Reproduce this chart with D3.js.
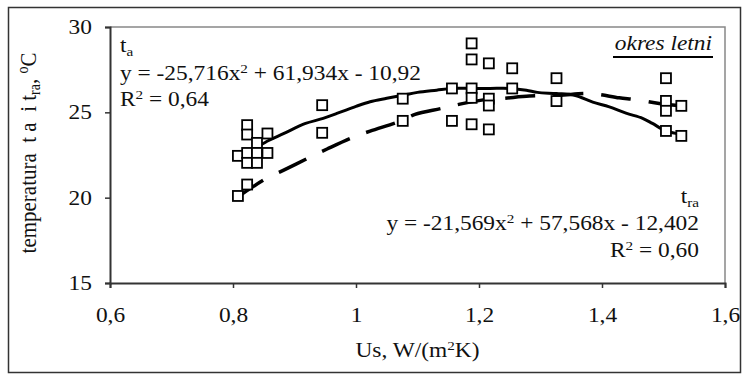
<!DOCTYPE html>
<html>
<head>
<meta charset="utf-8">
<script src="https://cdn.jsdelivr.net/npm/d3@7"></script>
<style>
  body { margin: 0; background: #fff; }
  svg { display: block; font-family: "Liberation Serif", "Times New Roman", serif; }
</style>
</head>
<body>
<svg id="chart" width="743" height="374"></svg>
<script>
// measured points (Us, temperature)
const pointX = [0.808, 0.808, 0.823, 0.823, 0.823, 0.823, 0.823, 0.839, 0.839, 0.839, 0.856, 0.856,
  0.945, 0.945, 1.076, 1.076, 1.156, 1.156, 1.188, 1.188, 1.188, 1.188, 1.188,
  1.216, 1.216, 1.216, 1.216, 1.254, 1.254, 1.326, 1.326, 1.504, 1.504, 1.504, 1.504, 1.529, 1.529];
const pointY = [22.45, 20.1, 24.25, 23.7, 22.62, 22.04, 20.77, 23.21, 22.62, 22.04, 23.76, 22.62,
  25.42, 23.8, 25.8, 24.5, 26.4, 24.5, 29.04, 28.1, 26.4, 25.85, 24.3,
  27.87, 25.8, 25.4, 24.0, 27.58, 26.4, 27.0, 25.66, 27.0, 25.67, 25.09, 23.91, 25.38, 23.62];

// t_a trend (solid)
const taX = [0.808, 0.831, 0.858, 0.882, 0.918, 0.942, 0.97, 1.0, 1.023, 1.05, 1.076, 1.1, 1.131, 1.156,
  1.188, 1.218, 1.25, 1.277, 1.295, 1.326, 1.355, 1.385, 1.412, 1.439, 1.466, 1.482, 1.504, 1.531];
const taY = [22.4, 22.8, 23.35, 23.75, 24.35, 24.6, 24.95, 25.35, 25.62, 25.82, 26.0, 26.17, 26.3, 26.4,
  26.4, 26.4, 26.4, 26.3, 26.17, 26.1, 26.0, 25.6, 25.32, 24.95, 24.65, 24.35, 23.91, 23.7];

// t_ra trend (dashed)
const traX = [0.808, 0.853, 0.88, 0.924, 0.953, 0.996, 1.023, 1.076, 1.096, 1.139, 1.169, 1.212,
  1.239, 1.282, 1.33, 1.382, 1.428, 1.455, 1.493, 1.529];
const traY = [20.05, 21.1, 21.57, 22.35, 22.85, 23.55, 23.9, 24.54, 24.88, 25.23, 25.48, 25.76,
  25.82, 25.95, 26.0, 26.1, 25.85, 25.74, 25.52, 25.38];

const xTicks = [0.6, 0.8, 1.0, 1.2, 1.4, 1.6];
const yTicks = [15, 20, 25, 30];

const svg = d3.select('#chart');
const mLeft = 110, mRight = 725, mTop = 27, mBottom = 283;
const FS = 20, SX = 1.17; // text in the picture is a bit stretched sideways

const x = d3.scaleLinear().domain([0.6, 1.6]).range([mLeft, mRight]);
const y = d3.scaleLinear().domain([15, 30]).range([mBottom, mTop]);
const fmt = (d) => String(+d.toFixed(1)).replace('.', ',');

// outer frame
svg.append('rect')
  .attr('x', 8.5).attr('y', 7.5).attr('width', 732).attr('height', 365)
  .attr('fill', 'none').attr('stroke', '#333').attr('stroke-width', 1.5);

// plot frame (grey top/right)
svg.append('path')
  .attr('d', `M${mLeft},${mTop}H${mRight}V${mBottom}`)
  .attr('fill', 'none').attr('stroke', '#888').attr('stroke-width', 1.5);

const xAxis = svg.append('g')
  .attr('transform', `translate(0,${mBottom})`)
  .call(d3.axisBottom(x).tickValues(xTicks).tickFormat(fmt).tickSize(5).tickPadding(20));
const yAxis = svg.append('g')
  .attr('transform', `translate(${mLeft},0)`)
  .call(d3.axisLeft(y).tickValues(yTicks).tickSize(5).tickPadding(13));

[xAxis, yAxis].forEach((g) => {
  g.select('.domain').attr('stroke', '#333').attr('stroke-width', 2);
  g.selectAll('.tick line').attr('stroke', '#333').attr('stroke-width', 1.5);
  g.selectAll('text').attr('font-family', '"Liberation Serif", serif')
    .attr('font-size', FS).attr('fill', '#111')
    .each(function () {
      const s = d3.select(this);
      const tx = +s.attr('x') || 0;
      s.attr('x', 0).attr('transform', `translate(${tx},0) scale(${SX},1)`);
    });
});

// trend lines
const line = d3.line().x((d) => x(d[0])).y((d) => y(d[1])).curve(d3.curveCatmullRom);
svg.append('path')
  .datum(taX.map((v, i) => [v, taY[i]]))
  .attr('d', line)
  .attr('fill', 'none').attr('stroke', '#000').attr('stroke-width', 3);
svg.append('path')
  .datum(traX.map((v, i) => [v, traY[i]]))
  .attr('d', line)
  .attr('fill', 'none').attr('stroke', '#000').attr('stroke-width', 3.5)
  .attr('stroke-dasharray', '30,18');

// points
const sq = 10;
svg.append('g')
  .selectAll('rect')
  .data(pointX.map((v, i) => [v, pointY[i]]))
  .join('rect')
  .attr('x', (d) => x(d[0]) - sq / 2)
  .attr('y', (d) => y(d[1]) - sq / 2)
  .attr('width', sq).attr('height', sq)
  .attr('fill', '#fff').attr('stroke', '#000').attr('stroke-width', 1.8);

// annotation helper: text with sub/superscripts
function label(xp, yp, parts, anchor, italic) {
  const t = svg.append('text')
    .attr('transform', `translate(${xp},${yp}) scale(${SX},1)`)
    .attr('font-size', FS).attr('fill', '#111')
    .attr('font-style', italic ? 'italic' : null)
    .attr('text-anchor', anchor || 'start');
  parts.forEach((p) => {
    const s = t.append('tspan').text(p.t);
    if (p.sup) s.attr('font-size', 13).attr('baseline-shift', '55%');
    if (p.sub) s.attr('font-size', 13).attr('baseline-shift', '-25%');
  });
  return t;
}

label(120, 52, [{ t: 't' }, { t: 'a', sub: true }]);
label(120, 80, [{ t: 'y = -25,716x' }, { t: '2', sup: true }, { t: ' + 61,934x - 10,92' }]);
label(120, 106, [{ t: 'R' }, { t: '2', sup: true }, { t: ' = 0,64' }]);

label(699, 203, [{ t: 't' }, { t: 'ra', sub: true }], 'end');
label(699, 230, [{ t: 'y = -21,569x' }, { t: '2', sup: true }, { t: ' + 57,568x - 12,402' }], 'end');
label(699, 257, [{ t: 'R' }, { t: '2', sup: true }, { t: ' = 0,60' }], 'end');

// season label
label(712, 50, [{ t: 'okres letni' }], 'end', true);
svg.append('line')
  .attr('x1', 613).attr('x2', 713).attr('y1', 57).attr('y2', 57)
  .attr('stroke', '#000').attr('stroke-width', 2);

// axis titles
label((mLeft + mRight) / 2, 357, [{ t: 'Us, W/(m' }, { t: '2', sup: true }, { t: 'K)' }], 'middle');

const yt = svg.append('text')
  .attr('transform', 'translate(36,153) rotate(-90) scale(1,1.12)')
  .attr('text-anchor', 'middle').attr('font-size', 21).attr('fill', '#111');
yt.append('tspan').text('temperatura\u00a0\u00a0t\u00a0a\u00a0\u00a0i\u00a0t');
yt.append('tspan').attr('font-size', 14).attr('baseline-shift', '-25%').text('ra');
yt.append('tspan').text(',\u00a0');
yt.append('tspan').attr('font-size', 14).attr('baseline-shift', '55%').text('o');
yt.append('tspan').text('C');
</script>
</body>
</html>
